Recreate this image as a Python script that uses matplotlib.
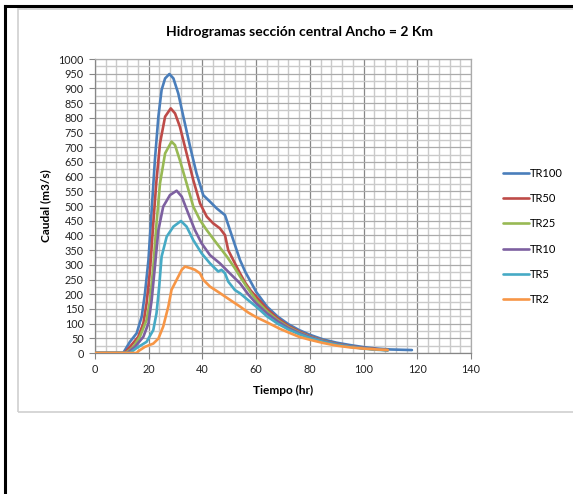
import numpy as np
import matplotlib
matplotlib.use("Agg")
import matplotlib.pyplot as plt
from matplotlib.lines import Line2D
from matplotlib.patches import Rectangle
from matplotlib.ticker import MultipleLocator

plt.rcParams["font.family"] = ["Lato", "DejaVu Sans"]

# --- hydrograph data (time in hr, flow in m3/s) ---
t_tr100 = [0, 10.5, 13, 15.5, 17.4, 18.6, 19.9, 21.1, 22.3, 23.6, 24.8, 26.1, 27.7, 29.2,
           31, 32.9, 35.4, 37.8, 40.3, 42.8, 45.3, 48.4, 51.5, 54, 56, 58, 60,
           64, 68, 72, 76, 80, 85, 90, 95, 100, 105, 110, 114, 118]
q_tr100 = [0, 0, 38, 67, 124, 203, 316, 486, 656, 804, 895, 934, 949, 934,
           883, 804, 702, 611, 537, 515, 492, 469, 384, 316, 275, 242, 208,
           158, 124, 98, 78, 62, 46, 35, 27, 20, 15, 12, 11, 10]

t_tr50 = [0, 11, 13, 16.1, 18, 19.2, 20.5, 21.7, 22.9, 24.2, 26.1, 28.2, 29.8, 31.6,
          34.1, 36.6, 39.1, 41.6, 44, 46.5, 48.4, 49.6, 52.1, 54, 56, 58, 60,
          64, 68, 72, 76, 80, 85, 90, 95, 100, 105, 109]
q_tr50 = [0, 0, 21, 55, 101, 169, 282, 441, 588, 713, 804, 832, 815, 770,
          679, 588, 509, 464, 441, 424, 401, 350, 305, 271, 238, 212, 192,
          150, 118, 92, 73, 57, 42, 31, 23, 17, 13, 10]

t_tr25 = [0, 11.5, 14.3, 16.7, 19.2, 20.5, 21.7, 22.9, 24.2, 26.1, 28.5, 29.8, 31.6,
          34.1, 36.6, 39.1, 41.6, 45.3, 49.1, 52.1, 54, 56.5, 60,
          64, 68, 72, 76, 80, 85, 90, 95, 100, 105, 109]
q_tr25 = [0, 0, 21, 55, 112, 180, 293, 441, 577, 679, 719, 707, 656,
          577, 498, 452, 418, 373, 328, 288, 260, 225, 180,
          142, 112, 88, 70, 55, 41, 30, 22, 16, 12, 10]

t_tr10 = [0, 12, 14.9, 18, 19.9, 21.1, 22.3, 23.6, 25.4, 27.9, 30.4, 32.3, 34.7,
          37.2, 39.7, 42.8, 46.5, 50.2, 54, 57, 60,
          64, 68, 72, 76, 80, 85, 90, 95, 100, 105, 109]
q_tr10 = [0, 0, 21, 55, 101, 180, 293, 418, 498, 537, 552, 532, 475,
          418, 373, 333, 305, 271, 237, 200, 169,
          135, 108, 85, 68, 54, 40, 30, 22, 16, 12, 10]

t_tr5 = [0, 13, 15.5, 19.2, 21.7, 22.9, 23.9, 24.8, 26.7, 29.2, 32, 34.1, 36.6,
         39.7, 42.8, 45.9, 47.1, 48.4, 49.6, 52.1, 54, 57, 60,
         64, 68, 72, 76, 80, 85, 90, 95, 100, 105, 109]
q_tr5 = [0, 0, 17, 38, 78, 135, 226, 328, 396, 430, 449, 430, 384,
         339, 305, 277, 283, 271, 243, 214, 203, 180, 158,
         125, 100, 80, 64, 51, 38, 28, 21, 15, 11, 9]

t_tr2 = [0, 15.5, 16.1, 18.6, 21.7, 23.6, 25.4, 27.3, 28.5, 30.4, 32.3, 33.5, 35.4,
         37.2, 39.1, 40.3, 42.8, 46.5, 50.2, 54, 57, 60, 63.9, 68.9,
         72, 76, 80, 85, 90, 95, 100, 105, 109]
q_tr2 = [0, 0, 6, 21, 32, 49, 90, 158, 215, 249, 283, 294, 289,
         283, 271, 249, 226, 204, 181, 158, 138, 122, 105, 82,
         70, 55, 45, 34, 25, 19, 15, 12, 10]

series = [
    ("TR100", t_tr100, q_tr100, "#4a7ebb"),
    ("TR50", t_tr50, q_tr50, "#be4b48"),
    ("TR25", t_tr25, q_tr25, "#98b954"),
    ("TR10", t_tr10, q_tr10, "#7d60a0"),
    ("TR5", t_tr5, q_tr5, "#46aac5"),
    ("TR2", t_tr2, q_tr2, "#f79646"),
]

W, H = 573, 494
fig = plt.figure(figsize=(W / 100, H / 100), dpi=100)
fig.patch.set_facecolor("white")

# frame bits of the screenshot (grey chart box, black cell border)
fig.add_artist(Rectangle((18 / W, 1 - 412 / H), 600 / W, (412 - 9) / H,
                         transform=fig.transFigure, fill=False,
                         edgecolor="#d0d0d0", lw=1.2))
fig.add_artist(Line2D([4.5 / W, 4.5 / W], [0, 1 - 6 / H], transform=fig.transFigure,
                      color="black", lw=2.2))
fig.add_artist(Line2D([4.5 / W, 1], [1 - 6 / H, 1 - 6 / H], transform=fig.transFigure,
                      color="black", lw=2.2))

ax = fig.add_axes([95 / W, 1 - 353 / H, (471 - 95) / W, (353 - 59) / H])

for name, t, q, c in series:
    ax.plot(t, q, color=c, lw=1.9, label=name, solid_capstyle="round",
            solid_joinstyle="round", zorder=3)

ax.set_xlim(0, 140)
ax.set_ylim(0, 1000)
ax.xaxis.set_major_locator(MultipleLocator(20))
ax.xaxis.set_minor_locator(MultipleLocator(4))
ax.yaxis.set_major_locator(MultipleLocator(50))
ax.yaxis.set_minor_locator(MultipleLocator(25))

ax.grid(which="minor", color="#cacaca", lw=1.0, zorder=0)
ax.grid(which="major", axis="y", color="#ababab", lw=0.9, zorder=1)
ax.grid(which="major", axis="x", color="#878787", lw=0.9, zorder=1)
ax.set_axisbelow(True)

ax.tick_params(which="minor", length=0)
ax.tick_params(which="major", length=4, width=0.8, color="#868686",
               labelsize=7.8, labelcolor="#222222", pad=4)
for side in ["left", "bottom"]:
    ax.spines[side].set_color("#868686")
    ax.spines[side].set_linewidth(0.9)
for side in ["top", "right"]:
    ax.spines[side].set_color("#ababab")
    ax.spines[side].set_linewidth(0.9)

ax.set_xlabel("Tiempo (hr)", fontsize=8.6, fontweight="bold", labelpad=7)
ax.set_ylabel("Caudal (m3/s)", fontsize=8.6, fontweight="bold", labelpad=5)
fig.text(299 / W, 1 - 32 / H, "Hidrogramas sección central Ancho = 2 Km",
         ha="center", va="center", fontsize=10, fontweight="bold")

ax.legend(loc="upper left", bbox_to_anchor=(1.072, 0.646), frameon=False,
          fontsize=8, handlelength=2.35, handletextpad=0.1,
          labelspacing=1.29, borderaxespad=0, borderpad=0.4)

fig.savefig("out.png", dpi=100)
